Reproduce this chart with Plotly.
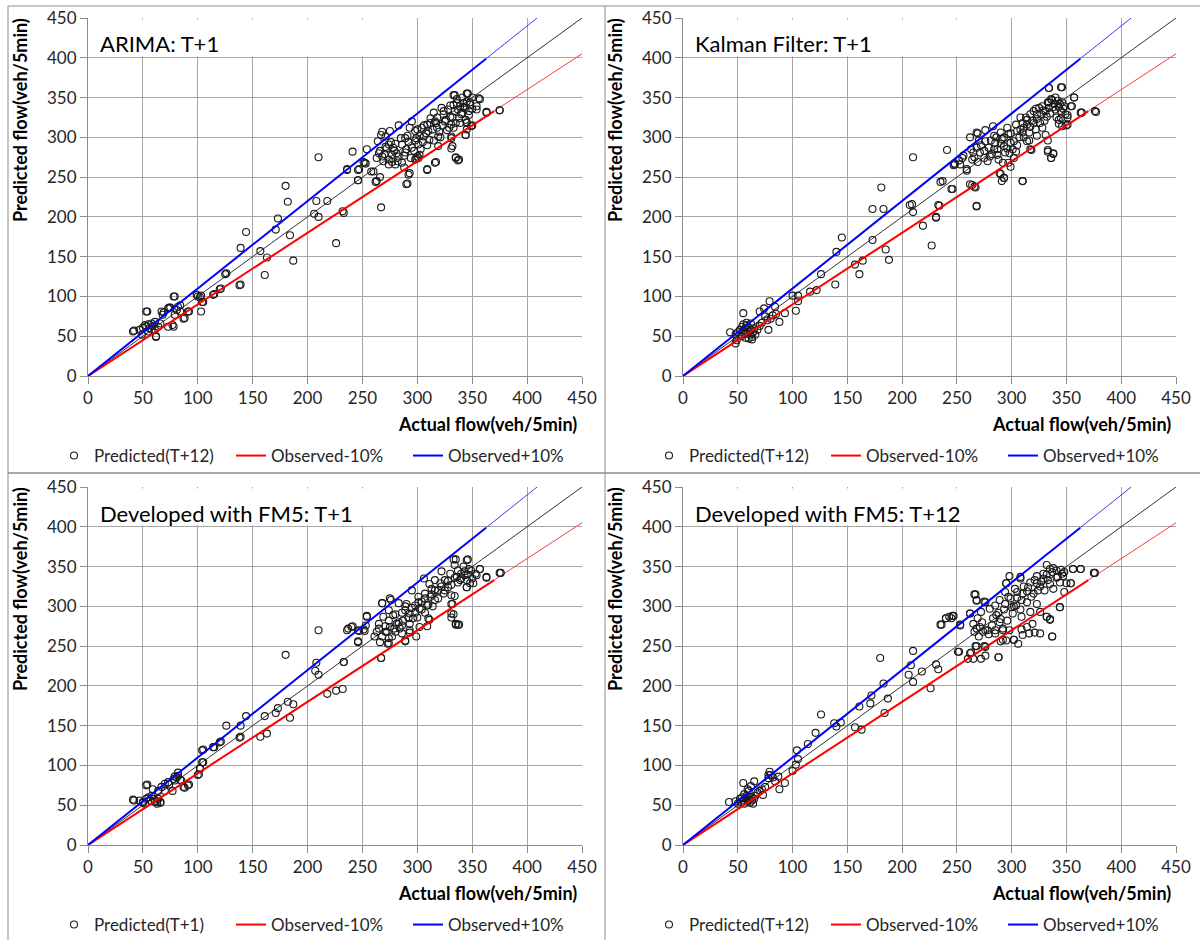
import plotly.graph_objects as go

# ---------------- data (actual flow, predicted flow) ----------------
arima_points = [
    (42,57),(54,81),(79,100),(74,86),(84,89),(88,73),(92,81),(77,64),(69,80),(62,50),
    (41,56),(53,81),(47,58),(49,52),(50,61),(52,64),(53,62),(55,65),(56,60),(58,66),(59,63),(61,68),
    (55,56),(58,58),(61,58),(62,49),(64,62),(66,66),(68,77),(67,81),(73,85),(75,86),(78,100),(79,77),
    (81,83),(82,87),(84,81),(78,62),(73,62),(87,72),(91,81),(100,100),(102,99),(104,93),(103,81),
    (114,102),(120,109),(125,128),(138,114),
    (99,102),(103,101),(105,93),(115,103),(121,110),(126,129),(139,115),(139,161),(144,181),(157,157),
    (161,127),(163,149),(171,184),(173,198),(184,177),(180,239),(182,219),(187,145),(208,220),(206,204),
    (210,200),(210,275),(218,220),(226,167),(232,207),(233,205),(236,260),(241,282),(246,246),(247,260),
    (251,269),(254,285),(260,257),(263,245),(267,212),(268,307),
    (291,242),(293,255),(309,260),(317,269),(335,275),(338,272),(332,289),(344,303),(350,315),(354,339),
    (357,348),(363,332),(375,334),(346,355),(334,353),(345,319),(331,301),
    (236,259),(246,246),(246,259),(252,268),(253,267),(258,257),(262,244),(266,250),(275,308),(283,315),
    (271,301),(274,291),(278,287),(281,280),(265,280),(263,274),(269,270),(274,266),(280,266),(277,278),
    (286,291),(289,299),(290,285),(293,312),(295,320),(298,308),(299,299),(301,291),(302,278),(298,272),
    (301,274),(304,312),(306,301),(309,316),(310,308),(312,324),(315,331),(316,320),(318,312),(319,301),
    (322,337),(324,329),(325,320),(328,335),(330,326),(331,316),(333,341),(334,333),(336,343),(337,335),
    (339,339),(340,329),(342,343),(343,337),(345,345),(347,333),(348,341),(350,350),(331,299),(331,286),
    (335,274),(337,271),(344,303),(345,318),(349,314),(356,349),(354,335),(363,331),(375,334),(319,289),
    (316,268),(309,259),(292,253),(290,241),(288,262),(299,273),(300,276),(333,353),(345,355),(341,350),
    (266,283),(268,276),(271,288),(274,272),(277,269),(280,292),(283,276),(286,268),(289,281),(292,294),
    (295,287),(298,296),(302,302),(305,294),(308,305),(311,297),(314,310),(317,318),(320,307),(323,315),
    (326,322),(329,312),(332,325),(335,318),(338,324),(341,331),(344,322),(347,328),(350,336),(264,295),
    (267,303),(270,279),(272,286),(276,294),(279,283),(282,270),(285,299),(288,277),(291,302),(294,274),
    (297,283),(300,310),(303,285),(306,315),(309,290),(312,318),(315,296),(318,325),(321,300),(324,333),
    (327,309),(330,340),(333,312),(336,348),(339,318),(342,338),(345,310),(348,344),
]

kalman_points = [
    (43,55),(55,79),(79,94),(70,81),(74,85),(84,87),(88,68),(93,79),(78,58),(48,41),(49,45),(63,46),
    (48,52),(50,55),(52,58),(53,50),(54,62),(55,57),(56,53),(57,60),(58,64),(59,56),(60,61),(61,52),
    (62,58),(63,49),(64,55),(65,60),(66,52),(68,58),(70,63),(72,67),(75,75),(77,70),(80,72),(82,76),
    (85,78),(57,48),(60,47),(55,65),(58,67),(62,66),
    (100,101),(105,101),(103,82),(105,94),(116,106),(122,108),(126,128),(139,115),(140,156),(145,174),
    (157,140),(161,128),(164,145),(173,171),(173,210),(183,210),(181,237),(185,159),(188,146),(207,215),
    (209,216),(210,206),(210,275),(219,189),(227,164),(231,199),(234,214),(237,245),(241,284),(246,235),
    (248,266),(253,266),(259,258),(264,240),(267,237),(268,213),(269,305),(289,255),(291,245),(293,249),
    (310,245),(318,284),(333,296),(333,282),(336,274),(338,279),(334,362),(346,363),(350,315),(357,350),
    (364,331),(376,333),(355,339),(345,324),(351,328),
    (235,244),(233,215),(231,200),(245,235),(247,265),(255,274),(262,241),(266,238),(268,214),
    (259,260),(264,272),(265,281),(268,287),(271,281),(275,274),(276,295),(279,287),(282,279),(284,302),
    (285,293),(287,285),(288,272),(290,306),(291,298),(293,289),(294,281),(296,312),(297,304),(299,293),
    (301,285),(302,274),(304,316),(305,308),(307,300),(308,325),(310,318),(311,312),(313,325),(314,316),
    (316,306),(317,329),(319,321),(320,333),(322,310),(323,323),(325,337),(327,329),(328,339),(330,321),
    (331,333),(333,344),(334,337),(336,348),(337,347),(339,342),(340,335),(342,346),(343,338),(345,333),
    (346,344),(348,339),(349,329),(351,325),(297,268),(299,263),(290,254),(293,249),(310,245),(317,285),
    (314,295),(323,302),(331,303),(333,284),(336,274),(338,280),(343,317),(346,314),(351,316),(354,339),
    (357,350),(363,331),(377,332),(345,363),(334,362),(268,306),(276,309),(283,314),(262,300),(256,277),
    (252,271),(248,267),
    (266,275),(269,269),(272,290),(275,283),(278,270),(281,296),(284,285),(287,278),(290,292),(293,300),
    (296,286),(299,305),(302,295),(305,290),(308,310),(311,300),(314,322),(317,313),(320,318),(323,329),
    (326,318),(329,334),(332,326),(335,330),(338,338),(341,325),(344,342),(347,336),(263,285),(270,296),
    (280,276),(286,300),(292,268),(298,280),(304,282),(310,306),(316,296),(322,336),(328,312),(334,344),
    (340,350),(343,322),
]

fm5_t1_points = [
    (42,56),(54,76),(50,53),(59,70),(63,55),(66,53),(70,68),(74,76),(77,68),(79,86),(82,91),(85,81),
    (88,72),(92,76),(100,88),(102,96),(105,120),(105,104),(115,123),(121,130),(126,150),(139,136),
    (139,150),(144,162),(157,136),(161,162),(163,140),(171,166),(173,172),(180,239),(182,180),(184,160),
    (187,177),(207,219),(208,229),(210,214),(210,270),(218,190),(226,194),(232,196),(233,230),(236,270),
    (241,275),(246,256),(247,269),(252,269),(254,287),(267,235),(268,304),(276,308),(274,254),(289,257),
    (293,267),(309,275),(311,283),(332,303),(333,290),(335,278),(338,277),(334,313),(346,359),(335,359),
    (345,324),(354,339),(357,347),(363,337),(376,342),(351,329),
    (41,57),(53,75),(47,56),(50,54),(53,58),(55,60),(57,56),(58,62),(60,58),(61,54),(63,52),(64,58),
    (66,54),(52,52),(64,68),(67,73),(70,77),(73,79),(78,83),(79,81),(81,85),(82,87),(84,82),(87,73),
    (91,75),(101,89),(102,96),(104,104),(104,119),(114,123),(120,129),(138,135),
    (237,272),(240,274),(233,230),(246,255),(246,270),(254,288),(253,276),(251,271),(267,235),(268,304),
    (274,260),(275,310),(283,304),(295,320),(306,335),(311,328),(316,333),(322,344),(333,359),(345,358),
    (334,352),(345,324),(345,333),(331,314),(331,303),(331,291),(331,286),(335,277),(337,277),(363,336),
    (375,342),(357,347),(353,341),(350,335),(310,285),(299,262),(289,256),(273,253),(266,255),(261,262),
    (265,278),(269,287),(274,295),(278,289),(281,278),(284,272),(287,282),(289,295),(290,303),(293,291),
    (296,285),(298,301),(301,312),(302,297),(304,306),(307,316),(309,301),(312,312),(313,322),(316,308),
    (319,320),(321,329),(324,316),(325,333),(328,324),(330,341),(336,337),(337,345),(339,333),(340,341),
    (342,350),(343,339),(347,347),(348,329),(286,266),(280,268),(275,274),(271,268),(263,268),(293,270),
    (302,274),
    (268,262),(271,275),(274,282),(277,262),(280,290),(283,280),(286,292),(289,300),(292,285),(295,298),
    (298,292),(301,305),(304,296),(307,310),(310,302),(313,315),(316,320),(319,310),(322,325),(325,320),
    (328,332),(331,327),(334,336),(337,330),(340,335),(343,344),(346,340),(349,345),(265,272),(272,268),
    (279,272),(286,276),(293,278),(300,286),(307,292),(314,300),
]

fm5_t12_points = [
    (42,54),(55,78),(65,80),(60,68),(73,63),(78,88),(79,92),(87,86),(88,70),(93,78),(100,93),(103,101),
    (104,119),(105,108),(114,127),(121,141),(126,164),(138,153),(140,149),(144,154),(157,148),(163,145),
    (161,174),(171,178),(172,188),(180,235),(183,203),(184,166),(187,184),(206,214),(208,226),(210,244),
    (210,205),(218,218),(226,197),(231,227),(233,221),(236,277),(240,285),(245,285),(247,288),(252,243),
    (253,276),(262,291),(263,242),(266,315),(268,307),(267,250),(276,249),(276,305),(288,236),(290,256),
    (292,258),(302,258),(309,271),(316,266),(326,266),(332,287),(335,284),(337,262),(344,299),(348,318),
    (356,347),(363,347),(375,342),(345,346),(354,329),(295,329),(298,338),(308,337),
    (48,55),(50,52),(52,58),(53,54),(54,60),(55,56),(56,52),(57,58),(58,62),(59,55),(60,57),(61,53),
    (62,60),(63,56),(64,52),(65,58),(66,62),(68,66),(70,68),(72,70),(75,73),(78,84),(80,88),(82,85),
    (84,80),(56,64),(59,70),(62,74),
    (235,277),(240,285),(243,287),(246,288),(253,277),(251,243),(262,291),(267,315),(268,308),(275,306),
    (268,250),(275,250),(276,238),(262,241),(260,234),(265,234),(272,234),(288,236),(295,329),(308,335),
    (294,318),(303,322),(305,311),(314,319),(321,333),(323,329),(329,341),(332,352),(335,347),(337,343),
    (341,345),(342,337),(346,341),(348,343),(350,329),(354,329),(356,347),(363,347),(376,342),(344,299),
    (332,287),(335,283),(337,262),(321,267),(319,278),(314,274),(310,264),(306,253),(302,258),(298,270),
    (292,272),(289,280),(286,289),(283,285),(278,270),(274,268),(271,274),(266,268),(265,278),(269,285),
    (272,293),(280,297),(285,301),(289,308),(294,303),(297,312),(300,299),(301,291),(304,301),(309,308),
    (310,316),(315,324),(318,312),(324,320),(327,331),(330,320),(333,333),(338,322),(295,257),(292,270),
    (285,266),(309,287),(317,293),(323,303),(326,293),
    (268,272),(270,262),(273,280),(276,270),(279,265),(282,276),(285,270),(288,292),(290,284),(293,296),
    (296,282),(299,310),(302,300),(305,318),(308,296),(311,325),(314,305),(317,330),(320,316),(323,338),
    (326,325),(329,335),(332,340),(335,328),(338,348),(341,336),(344,330),(347,338),
]

panel_titles = ["ARIMA: T+1", "Kalman Filter: T+1", "Developed with FM5: T+1", "Developed with FM5: T+12"]
scatter_names = ["Predicted(T+12)", "Predicted(T+12)", "Predicted(T+1)", "Predicted(T+12)"]
panel_points = [arima_points, kalman_points, fm5_t1_points, fm5_t12_points]

axis_max = 450
tick_step = 50
band = 0.10                    # +/-10% envelope
thick_end = 370                # envelope drawn heavy through the range of observations
diag_x = [0, axis_max]
lo_x_thick = [0, thick_end]
lo_x_thin = [thick_end, axis_max]
hi_x_thick = [0, thick_end * 0.98]
hi_x_thin = [thick_end * 0.98, axis_max / (1 + band)]

# ---------------- layout geometry (pixels of a 1200x940 page) ----------------
W, H = 1200, 940
panels_px = [  # (left, right, top, bottom) of each plot area
    (88, 582, 18, 376),
    (683, 1176, 18, 376),
    (88, 582, 487, 845),
    (683, 1176, 487, 845),
]

FONT = "Lato"
fig = go.Figure()

layout = dict(
    width=W, height=H,
    margin=dict(l=0, r=0, t=0, b=0, autoexpand=False),
    paper_bgcolor="white", plot_bgcolor="white",
    font=dict(family=FONT, color="#262626"),
    showlegend=True,
)
annotations = []
shapes = []

for i, pts in enumerate(panel_points):
    n = "" if i == 0 else str(i + 1)
    xa, ya = "x" + n, "y" + n
    lg = "legend" + n
    L, R, T, B = panels_px[i]
    axis_common = dict(
        range=[0, axis_max], dtick=tick_step, tick0=0,
        showgrid=True, gridcolor="#a6a6a6", gridwidth=1,
        showline=True, linecolor="#8c8c8c", linewidth=1,
        ticks="outside", ticklen=7, tickcolor="#8c8c8c",
        tickfont=dict(family=FONT, size=17, color="#262626"),
        zeroline=False, fixedrange=True, automargin=False,
    )
    layout["xaxis" + n] = dict(axis_common, domain=[L / W, R / W], anchor=ya)
    layout["yaxis" + n] = dict(axis_common, domain=[1 - B / H, 1 - T / H], anchor=xa)

    ax = [p[0] for p in pts]
    ay = [p[1] for p in pts]

    # y = x reference
    fig.add_trace(go.Scatter(x=diag_x, y=diag_x, mode="lines", xaxis=xa, yaxis=ya,
                             line=dict(color="#333333", width=1), showlegend=False, hoverinfo="skip"))
    # -10 % (thin tail)
    fig.add_trace(go.Scatter(x=lo_x_thin, y=[v * (1 - band) for v in lo_x_thin], mode="lines",
                             xaxis=xa, yaxis=ya, line=dict(color="#ff3a3a", width=1),
                             showlegend=False, hoverinfo="skip"))
    # +10 % (thin tail)
    fig.add_trace(go.Scatter(x=hi_x_thin, y=[v * (1 + band) for v in hi_x_thin], mode="lines",
                             xaxis=xa, yaxis=ya, line=dict(color="#3a3aff", width=1),
                             showlegend=False, hoverinfo="skip"))
    # scatter of predictions
    fig.add_trace(go.Scatter(x=ax, y=ay, mode="markers", xaxis=xa, yaxis=ya, name=scatter_names[i],
                             legend=lg, legendrank=1,
                             marker=dict(symbol="circle-open", size=7, color="#1a1a1a",
                                         line=dict(width=1.1, color="#1a1a1a"))))
    fig.add_trace(go.Scatter(x=lo_x_thick, y=[v * (1 - band) for v in lo_x_thick], mode="lines",
                             xaxis=xa, yaxis=ya, name="Observed-10%", legend=lg, legendrank=2,
                             line=dict(color="#ff0000", width=2)))
    fig.add_trace(go.Scatter(x=hi_x_thick, y=[v * (1 + band) for v in hi_x_thick], mode="lines",
                             xaxis=xa, yaxis=ya, name="Observed+10%", legend=lg, legendrank=3,
                             line=dict(color="#0000ff", width=2)))

    # legend for this panel
    legend_y_px = T + 438
    layout[lg] = dict(
        orientation="h", x=(L - 34) / W, xanchor="left", y=1 - legend_y_px / H, yanchor="middle",
        font=dict(family=FONT, size=17, color="#262626"), bgcolor="rgba(0,0,0,0)",
        entrywidth=132, entrywidthmode="pixels", itemwidth=30, traceorder="normal",
    )

    # white title box and title text
    shapes.append(dict(type="rect", xref=xa, yref=ya, x0=1.5, x1=290, y0=402, y1=448,
                       fillcolor="white", line=dict(width=0), layer="above"))
    annotations.append(dict(text=panel_titles[i], xref="paper", yref="paper",
                            x=(L + 10) / W, y=1 - (T + 26) / H, xanchor="left", yanchor="middle",
                            showarrow=False, font=dict(family=FONT, size=22, color="#000000")))
    # axis titles
    annotations.append(dict(text="<b>Predicted flow(veh/5min)</b>", xref="paper", yref="paper",
                            x=(L - 68) / W, y=1 - (T - 2) / H, xanchor="center", yanchor="top",
                            textangle=-90, showarrow=False,
                            font=dict(family=FONT, size=18, color="#000000")))
    annotations.append(dict(text="<b>Actual flow(veh/5min)</b>", xref="paper", yref="paper",
                            x=(R - 3) / W, y=1 - (B + 48) / H, xanchor="right", yanchor="middle",
                            showarrow=False, font=dict(family=FONT, size=18, color="#000000")))

# panel frame lines
frame = "#8c8c8c"
shapes += [
    dict(type="line", xref="paper", yref="paper", x0=8 / W, x1=8 / W, y0=0, y1=1 - 6 / H,
         line=dict(color=frame, width=1)),
    dict(type="line", xref="paper", yref="paper", x0=8 / W, x1=1, y0=1 - 6 / H, y1=1 - 6 / H,
         line=dict(color=frame, width=1)),
    dict(type="line", xref="paper", yref="paper", x0=605 / W, x1=605 / W, y0=0, y1=1 - 6 / H,
         line=dict(color=frame, width=1)),
    dict(type="line", xref="paper", yref="paper", x0=8 / W, x1=1, y0=1 - 473 / H, y1=1 - 473 / H,
         line=dict(color=frame, width=1.5)),
]

layout["annotations"] = annotations
layout["shapes"] = shapes
fig.update_layout(**layout)
fig.write_html(
    "out.html",
    config={"displayModeBar": False},
    post_script="document.body.style.margin='0px';document.body.style.overflow='hidden';",
)
